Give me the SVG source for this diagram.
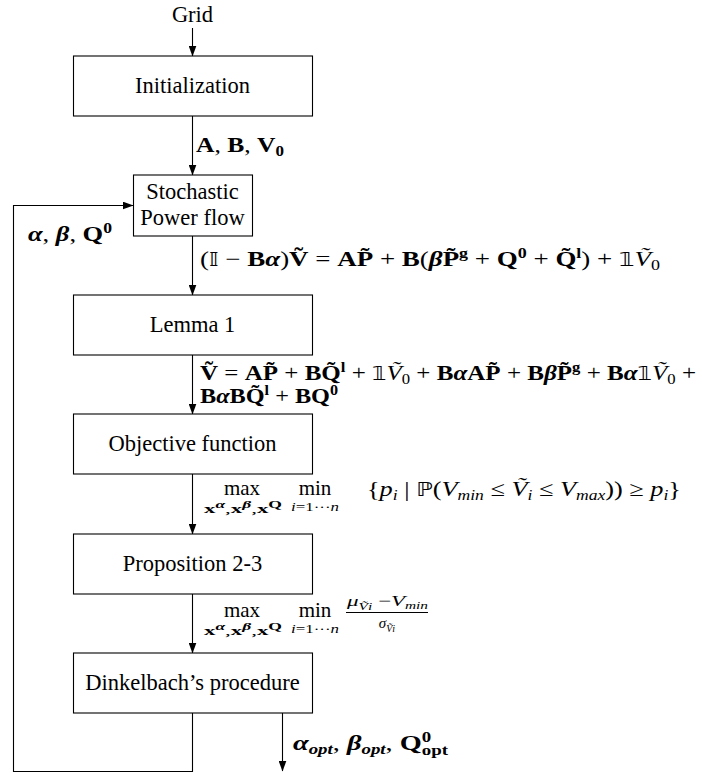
<svg xmlns="http://www.w3.org/2000/svg" width="702" height="773" viewBox="0 0 702 773">
<style>
.box{fill:#fff;stroke:#000;stroke-width:1.1}
.ln{fill:none;stroke:#000;stroke-width:1.1}
.t{font-family:"Liberation Serif","Times New Roman",serif;font-size:22.5px;fill:#000}
.c{text-anchor:middle}
.m{font-family:"Liberation Serif","Times New Roman",serif;font-size:21px;fill:#000}
.b{font-weight:bold}
.i{font-style:italic}
.bi{font-weight:bold;font-style:italic}
.s{font-size:14px}
.ss{font-size:13px}
.sss{font-size:10px}
.ds{font-family:"DejaVu Sans",sans-serif;font-size:19px}
</style>
<defs>
<marker id="ah" markerWidth="11" markerHeight="8" refX="10.5" refY="4" orient="auto" markerUnits="userSpaceOnUse">
<path d="M0,0 L11,4 L0,8 Z" fill="#000"/>
</marker>
</defs>

<g id="connectors">
<line class="ln" x1="192.5" y1="28" x2="192.5" y2="56" marker-end="url(#ah)"/>
<line class="ln" x1="192.5" y1="116" x2="192.5" y2="175" marker-end="url(#ah)"/>
<line class="ln" x1="192.5" y1="236" x2="192.5" y2="295" marker-end="url(#ah)"/>
<line class="ln" x1="192.5" y1="355" x2="192.5" y2="414" marker-end="url(#ah)"/>
<line class="ln" x1="192.5" y1="474" x2="192.5" y2="534" marker-end="url(#ah)"/>
<line class="ln" x1="192.5" y1="594" x2="192.5" y2="653" marker-end="url(#ah)"/>
<polyline class="ln" points="192.5,713 192.5,771.5 13.5,771.5 13.5,205.5 133,205.5" marker-end="url(#ah)"/>
<line class="ln" x1="282.5" y1="713" x2="282.5" y2="771" marker-end="url(#ah)"/>

<text class="m" x="196" y="152" textLength="88" lengthAdjust="spacingAndGlyphs"><tspan class="b">A</tspan>, <tspan class="b">B</tspan>, <tspan class="b">V</tspan><tspan class="b s" dy="4">0</tspan></text>
<text class="m" x="28" y="241" textLength="84" lengthAdjust="spacingAndGlyphs"><tspan class="bi">α</tspan>, <tspan class="bi">β</tspan>, <tspan class="b">Q</tspan><tspan class="b s" dy="-8">0</tspan></text>

<text class="m" x="200" y="266" textLength="460" lengthAdjust="spacingAndGlyphs">(<tspan class="ds">𝕀</tspan> − <tspan class="b">B</tspan><tspan class="bi">α</tspan>)<tspan class="b">Ṽ</tspan> = <tspan class="b">AP̃</tspan> + <tspan class="b">B</tspan>(<tspan class="bi">β</tspan><tspan class="b">P̃</tspan><tspan class="b s" dy="-8">g</tspan><tspan dy="8"> + </tspan><tspan class="b">Q</tspan><tspan class="b s" dy="-8">0</tspan><tspan dy="8"> + </tspan><tspan class="b">Q̃</tspan><tspan class="b s" dy="-8">l</tspan><tspan dy="8">) + </tspan><tspan class="ds">𝟙</tspan><tspan class="i">Ṽ</tspan><tspan class="s" dy="4">0</tspan></text>

<text class="m" x="200" y="380" textLength="496" lengthAdjust="spacingAndGlyphs"><tspan class="b">Ṽ</tspan> = <tspan class="b">AP̃</tspan> + <tspan class="b">BQ̃</tspan><tspan class="b s" dy="-8">l</tspan><tspan dy="8"> + </tspan><tspan class="ds">𝟙</tspan><tspan class="i">Ṽ</tspan><tspan class="s" dy="4">0</tspan><tspan dy="-4"> + </tspan><tspan class="b">B</tspan><tspan class="bi">α</tspan><tspan class="b">AP̃</tspan> + <tspan class="b">B</tspan><tspan class="bi">β</tspan><tspan class="b">P̃</tspan><tspan class="b s" dy="-8">g</tspan><tspan dy="8"> + </tspan><tspan class="b">B</tspan><tspan class="bi">α</tspan><tspan class="ds">𝟙</tspan><tspan class="i">Ṽ</tspan><tspan class="s" dy="4">0</tspan><tspan dy="-4"> +</tspan></text>
<text class="m" x="200" y="403" textLength="138" lengthAdjust="spacingAndGlyphs"><tspan class="b">B</tspan><tspan class="bi">α</tspan><tspan class="b">BQ̃</tspan><tspan class="b s" dy="-8">l</tspan><tspan dy="8"> + </tspan><tspan class="b">BQ</tspan><tspan class="b s" dy="-8">0</tspan></text>

<text class="m c" x="242" y="495">max</text>
<text class="ss" x="204" y="513" font-family="Liberation Serif, serif" textLength="78" lengthAdjust="spacingAndGlyphs"><tspan class="b">x</tspan><tspan class="bi sss" dy="-5">α</tspan><tspan dy="5">,</tspan><tspan class="b">x</tspan><tspan class="bi sss" dy="-5">β</tspan><tspan dy="5">,</tspan><tspan class="b">x</tspan><tspan class="b sss" dy="-5">Q</tspan></text>
<text class="m c" x="315" y="495">min</text>
<text class="ss" x="291" y="511" font-family="Liberation Serif, serif" textLength="48" lengthAdjust="spacingAndGlyphs"><tspan class="i">i</tspan>=1···<tspan class="i">n</tspan></text>
<text class="m" x="367" y="496" textLength="314" lengthAdjust="spacingAndGlyphs">{<tspan class="i">p</tspan><tspan class="i s" dy="4">i</tspan><tspan dy="-4"> | </tspan><tspan class="ds">ℙ</tspan>(<tspan class="i">V</tspan><tspan class="i s" dy="4">min</tspan><tspan dy="-4"> ≤ </tspan><tspan class="i">Ṽ</tspan><tspan class="i s" dy="4">i</tspan><tspan dy="-4"> ≤ </tspan><tspan class="i">V</tspan><tspan class="i s" dy="4">max</tspan><tspan dy="-4">)) ≥ </tspan><tspan class="i">p</tspan><tspan class="i s" dy="4">i</tspan><tspan dy="-4">}</tspan></text>

<text class="m c" x="242" y="617">max</text>
<text class="ss" x="204" y="635" font-family="Liberation Serif, serif" textLength="78" lengthAdjust="spacingAndGlyphs"><tspan class="b">x</tspan><tspan class="bi sss" dy="-5">α</tspan><tspan dy="5">,</tspan><tspan class="b">x</tspan><tspan class="bi sss" dy="-5">β</tspan><tspan dy="5">,</tspan><tspan class="b">x</tspan><tspan class="b sss" dy="-5">Q</tspan></text>
<text class="m c" x="315" y="617">min</text>
<text class="ss" x="291" y="633" font-family="Liberation Serif, serif" textLength="48" lengthAdjust="spacingAndGlyphs"><tspan class="i">i</tspan>=1···<tspan class="i">n</tspan></text>
<text class="m" x="347" y="606" style="font-size:15px" textLength="81" lengthAdjust="spacingAndGlyphs"><tspan class="i">μ</tspan><tspan class="i sss" dy="4">Ṽi</tspan><tspan dy="-4"> −</tspan><tspan class="i">V</tspan><tspan class="i sss" dy="3">min</tspan></text>
<line class="ln" x1="346" y1="612.5" x2="428" y2="612.5" stroke-width="0.8"/>
<text class="m c" x="387" y="628" style="font-size:15px"><tspan class="i">σ</tspan><tspan class="i sss" dy="4">Ṽi</tspan></text>

<text class="m" x="293" y="750" textLength="155" lengthAdjust="spacingAndGlyphs"><tspan class="bi">α</tspan><tspan class="bi s" dy="4">opt</tspan><tspan dy="-4">, </tspan><tspan class="bi">β</tspan><tspan class="bi s" dy="4">opt</tspan><tspan dy="-4">, </tspan><tspan class="b">Q</tspan><tspan class="b s" dy="-8">0</tspan><tspan class="b s" dx="-7" dy="13">opt</tspan></text>
</g>

<g id="grid"><text class="t c" x="192.5" y="22">Grid</text></g>
<g id="initialization"><rect class="box" x="73.5" y="56" width="239" height="60"/><text class="t c" x="192.5" y="93">Initialization</text></g>
<g id="stochastic"><rect class="box" x="133.5" y="175" width="119" height="61"/><text class="t c" x="192.5" y="199">Stochastic</text><text class="t c" x="192.5" y="225">Power flow</text></g>
<g id="lemma1"><rect class="box" x="73.5" y="295" width="239" height="60"/><text class="t c" x="192.5" y="332">Lemma 1</text></g>
<g id="objective"><rect class="box" x="73.5" y="414" width="239" height="60"/><text class="t c" x="192.5" y="451">Objective function</text></g>
<g id="proposition"><rect class="box" x="73.5" y="534" width="239" height="60"/><text class="t c" x="192.5" y="571">Proposition 2-3</text></g>
<g id="dinkelbach"><rect class="box" x="73.5" y="653" width="239" height="60"/><text class="t c" x="192.5" y="690">Dinkelbach’s procedure</text></g>
</svg>
